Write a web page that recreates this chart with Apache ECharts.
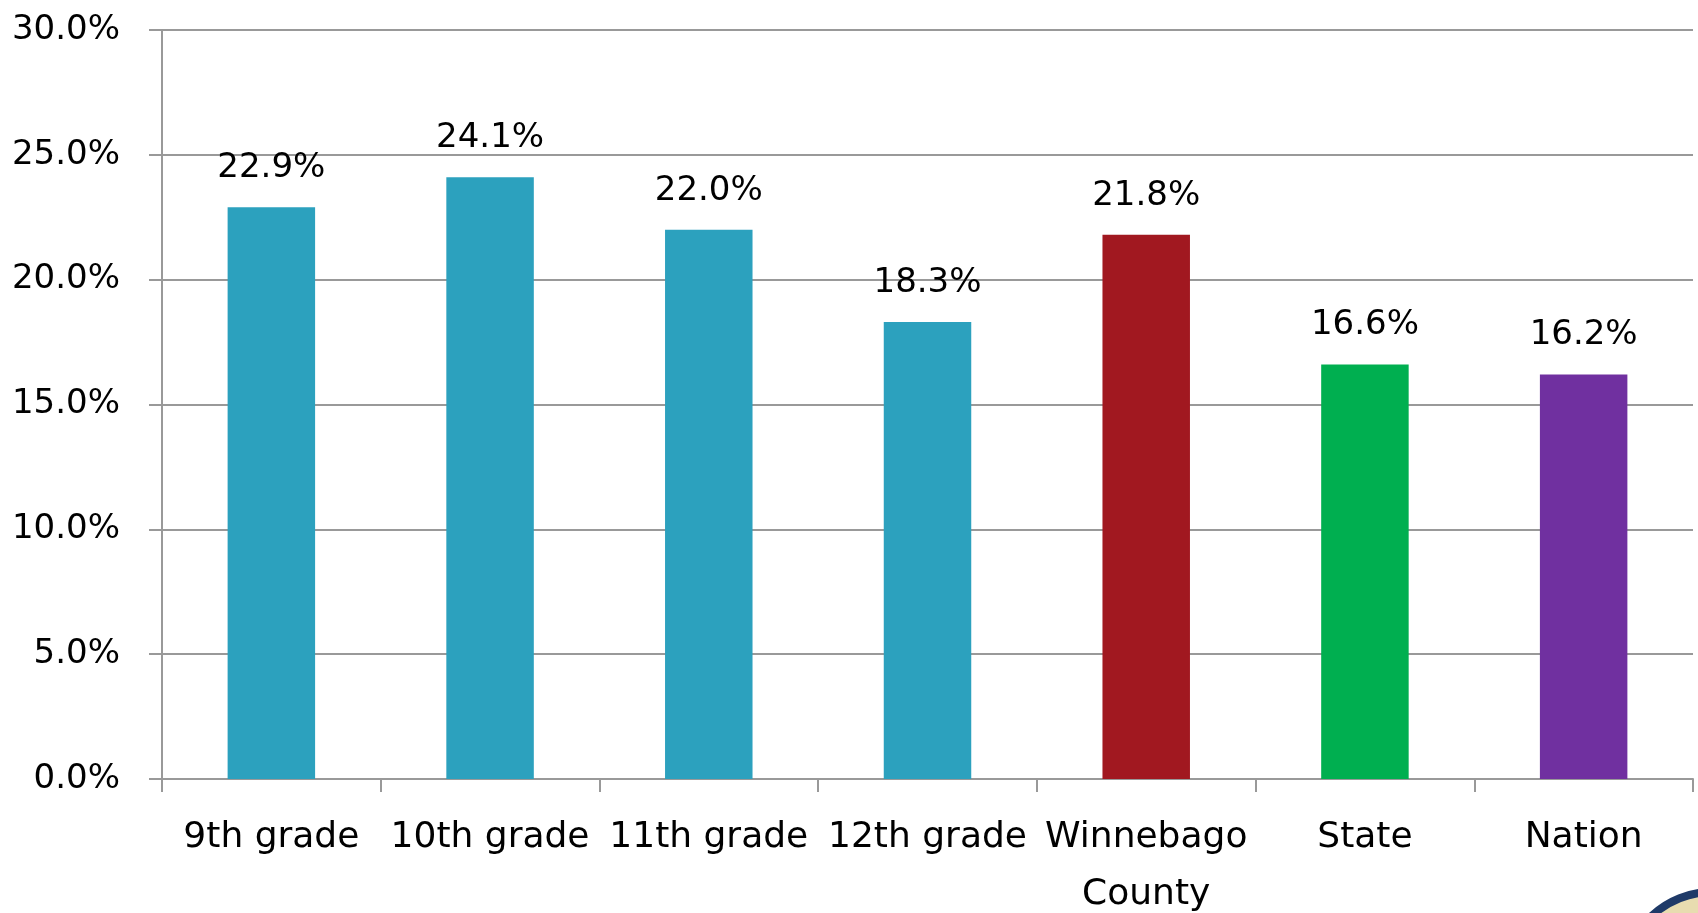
<!DOCTYPE html>
<html>
<head>
<meta charset="utf-8">
<script src="https://cdn.jsdelivr.net/npm/echarts@6/dist/echarts.min.js"></script>
<style>html,body{margin:0;padding:0;background:#fff;}#c{width:1698px;height:913px;}</style>
</head>
<body>
<div id="c"></div>
<script>
var categories = ['9th grade', '10th grade', '11th grade', '12th grade', 'Winnebago\nCounty', 'State', 'Nation'];
var values = [22.9, 24.1, 22.0, 18.3, 21.8, 16.6, 16.2];
var barColors = ['#2CA1BE', '#2CA1BE', '#2CA1BE', '#2CA1BE', '#A11820', '#00AF50', '#7030A0'];
var yTicks = [0, 5, 10, 15, 20, 25, 30];

var chart = echarts.init(document.getElementById('c'), null, {renderer: 'canvas'});
var font = 'DejaVu Sans';
chart.setOption({
  animation: false,
  backgroundColor: '#fff',
  grid: {left: 162, top: 30, right: 5, bottom: 134, containLabel: false, outerBoundsMode: 'none'},
  xAxis: {
    type: 'category',
    data: categories,
    axisLine: {lineStyle: {color: '#999', width: 2}},
    axisTick: {show: true, length: 13, lineStyle: {color: '#999', width: 2}, alignWithLabel: false},
    axisLabel: {color: '#000', fontFamily: font, fontSize: 36, lineHeight: 57, margin: 30, interval: 0}
  },
  yAxis: {
    type: 'value',
    min: yTicks[0],
    max: yTicks[yTicks.length - 1],
    interval: 5,
    axisLine: {show: true, lineStyle: {color: '#999', width: 2}},
    axisTick: {show: true, length: 13, lineStyle: {color: '#999', width: 2}},
    splitLine: {lineStyle: {color: '#999', width: 2}},
    axisLabel: {color: '#000', fontFamily: font, fontSize: 34, margin: 42, padding: [0, 0, 5, 0],
      formatter: function (v) { return v.toFixed(1) + '%'; }}
  },
  series: [{
    type: 'bar',
    barWidth: '40%',
    data: values.map(function (v, i) { return {value: v, itemStyle: {color: barColors[i]}}; }),
    label: {show: true, position: 'top', distance: 22, color: '#000', fontFamily: font, fontSize: 34,
      formatter: function (p) { return p.value.toFixed(1) + '%'; }}
  }],
  graphic: [{
    type: 'circle', z: 10,
    shape: {cx: 1712, cy: 980, r: 88},
    style: {fill: '#e8dcb0', stroke: '#1f3a68', lineWidth: 8}
  }]
});
</script>
</body>
</html>
